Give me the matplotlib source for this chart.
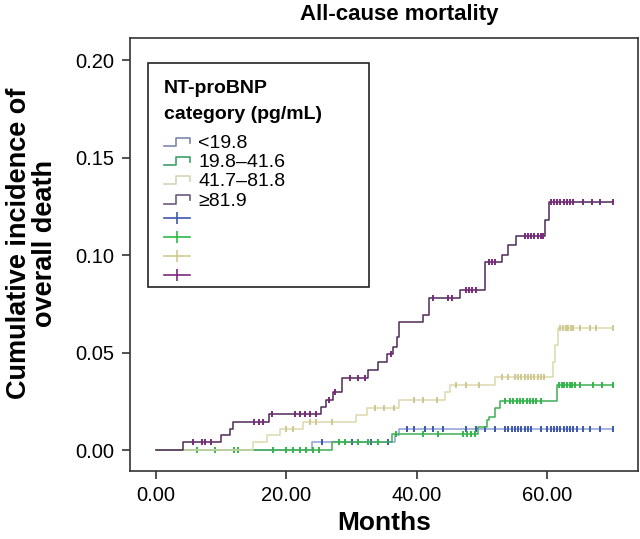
import matplotlib
matplotlib.use("Agg")
import matplotlib.pyplot as plt
from matplotlib.lines import Line2D
from matplotlib.patches import Rectangle
from matplotlib.legend_handler import HandlerBase
import numpy as np

plt.rcParams['font.family'] = ['Liberation Sans', 'DejaVu Sans']

# step curves (months, cumulative incidence)
blue_t = [0, 23.9, 36.7, 37.3, 70]
blue_v = [0, 0.004, 0.0075, 0.0106, 0.0106]
blue_cens = [25.5, 28, 30, 33, 35.5, 38.5, 39.5, 41.2, 42.5, 44, 47.5, 49, 50.5, 52,
             53.5, 54, 54.5, 55, 55.5, 56, 56.5, 57, 57.5, 59, 60, 60.5, 61, 61.5,
             62, 62.5, 63, 63.5, 64, 64.5, 65.5, 66.5, 68, 70]

green_t = [0, 27.0, 36.2, 49.4, 50.7, 51.1, 51.9, 52.8, 61.4, 70]
green_v = [0, 0.004, 0.008, 0.0118, 0.0154, 0.017, 0.0217, 0.025, 0.0333, 0.0333]
green_cens = [6.3, 9, 12, 12.5, 18, 20, 21, 22, 23, 24, 25, 28, 29, 31, 32.5, 34,
              36.8, 40.9, 43.2, 47, 47.7, 48.3, 48.9, 53.5, 54.2, 54.8, 55.3, 55.8,
              56.3, 56.8, 57.3, 57.8, 58.3, 59, 61.8, 62.2, 62.6, 63, 63.4, 63.8,
              64.3, 65, 67, 68.3, 70]

yellow_t = [0, 14.8, 17.0, 19.0, 22.5, 30.6, 32.3, 37.3, 44.3, 45.0, 51.9, 60.8, 61.2, 61.7, 70]
yellow_v = [0, 0.0043, 0.0077, 0.011, 0.0145, 0.018, 0.0215, 0.0256, 0.030, 0.0335,
            0.0376, 0.045, 0.054, 0.0625, 0.0625]
yellow_cens = [20, 21, 23.6, 24.5, 27, 33.5, 35, 36.5, 39.5, 41, 43, 46, 47.5, 49.5,
               53, 54, 55, 55.5, 56, 56.5, 57, 57.5, 58, 58.5, 59, 59.5, 62, 62.4,
               62.8, 63.2, 63.6, 64, 65, 66.5, 67.5, 70]

purple_t = [0, 4.1, 10.0, 11.3, 11.8, 17.3, 25.3, 26.0, 27.1, 28.5, 32.5, 34.0, 35.4,
            36.3, 36.9, 37.2, 40.9, 41.8, 46.6, 50.4, 53.1, 54.0, 55.2, 59.7, 60.2, 70]
purple_v = [0, 0.004, 0.0075, 0.011, 0.0145, 0.0185, 0.022, 0.0256, 0.0297, 0.037,
            0.041, 0.045, 0.049, 0.053, 0.058, 0.0656, 0.069, 0.078, 0.082, 0.0966,
            0.100, 0.105, 0.110, 0.118, 0.127, 0.127]
purple_cens = [5.7, 7, 7.5, 8.5, 15, 15.8, 16.4, 17.8, 21.3, 22, 22.8, 23.6, 24.6,
               26.5, 27.5, 29.7, 30.9, 32, 36, 42.4, 44.7, 45.3, 47.5, 48, 48.5, 49,
               51, 51.5, 52, 56.5, 57, 57.5, 58, 58.5, 59, 59.3, 60.5, 61, 61.5, 62,
               62.5, 63, 63.5, 64, 65.5, 66.8, 68, 70]

labels = ['<19.8', '19.8\u201341.6', '41.7\u201381.8', '\u226581.9']
line_colors = ['#8e9fd4', '#3fae55', '#dcd9ae', '#4e2a56']
mark_colors = ['#3e58ac', '#2eb848', '#cfc98f', '#7c287d']
leg_colors = ['#7d88aa', '#3f9f6a', '#d6d3b6', '#6c5a7a']

fig = plt.figure(figsize=(6.4, 5.39), dpi=100)
ax = fig.add_axes([0.203, 0.126, 0.794, 0.8035])

curves = [(blue_t, blue_v, blue_cens), (green_t, green_v, green_cens),
          (yellow_t, yellow_v, yellow_cens), (purple_t, purple_v, purple_cens)]
for i, (t, v, c) in enumerate(curves):
    t = np.array(t)
    v = np.array(v)
    ax.step(t, v, where='post', color=line_colors[i], lw=1.1, zorder=2 + i)
    c = np.array(c)
    cv = v[np.searchsorted(t, c, side='right') - 1]
    ax.plot(c, cv, ls='none', marker='|', ms=4, mew=1.4, color=mark_colors[i], zorder=2 + i)

ax.set_xlim(-4.0, 73.9)
ax.set_ylim(-0.0108, 0.2113)
ax.set_xticks([0, 20, 40, 60])
ax.set_xticklabels(['0.00', '20.00', '40.00', '60.00'])
ax.set_yticks([0, 0.05, 0.10, 0.15, 0.20])
ax.set_yticklabels(['0.00', '0.05', '0.10', '0.15', '0.20'])
ax.tick_params(direction='out', length=6, width=1.2, colors='#333333',
               labelsize=14.5, labelcolor='black', pad=5)
for s in ax.spines.values():
    s.set_color('#333333')
    s.set_linewidth(1.2)

ax.set_title('All-cause mortality', fontsize=16, fontweight='bold', pad=13, x=0.53)
ax.set_xlabel('Months', fontsize=19, fontweight='bold', labelpad=4)
ax.set_ylabel('Cumulative incidence of\noverall death', fontsize=19.5,
              fontweight='bold', linespacing=1.0)
ax.yaxis.set_label_coords(-0.141, 0.526)


class StepHandler(HandlerBase):
    def create_artists(self, legend, orig_handle, xdescent, ydescent, width, height, fontsize, trans):
        x0 = -xdescent
        y0 = -ydescent
        xs = [x0, x0 + 0.45 * width, x0 + 0.45 * width, x0 + width, x0 + width]
        ys = [y0 + 0.15 * height, y0 + 0.15 * height, y0 + 0.75 * height,
              y0 + 0.75 * height, y0 + 0.4 * height]
        ln = Line2D(xs, ys, color=orig_handle.get_color(), lw=1.2, transform=trans)
        return [ln]


step_handles = [Line2D([], [], color=c) for c in leg_colors]
cens_handles = [Line2D([], [], color=c, marker='|', ms=9, mew=1.2, lw=1.2) for c in mark_colors]
handles = step_handles + cens_handles
leg_labels = labels + [' '] * 4
hmap = {h: StepHandler() for h in step_handles}

# legend box drawn as its own frame
box = Rectangle((0.035, 0.425), 0.435, 0.517, transform=ax.transAxes,
                facecolor='white', edgecolor='#222222', lw=1.2, zorder=9)
ax.add_patch(box)

leg = ax.legend(handles, leg_labels, handler_map=hmap,
                title='NT-proBNP\ncategory (pg/mL)', loc='upper left',
                bbox_to_anchor=(0.035, 0.425, 0.435, 0.517), mode='expand',
                borderaxespad=0, frameon=False,
                fontsize=14, title_fontproperties={'weight': 'bold', 'size': 14},
                alignment='left', handlelength=1.3, handletextpad=0.45,
                labelspacing=0.08, borderpad=0.85)
leg.set_zorder(10)
leg.get_title().set_linespacing(1.75)
leg._legend_box.sep = 8

fig.savefig('out.png', dpi=100)
